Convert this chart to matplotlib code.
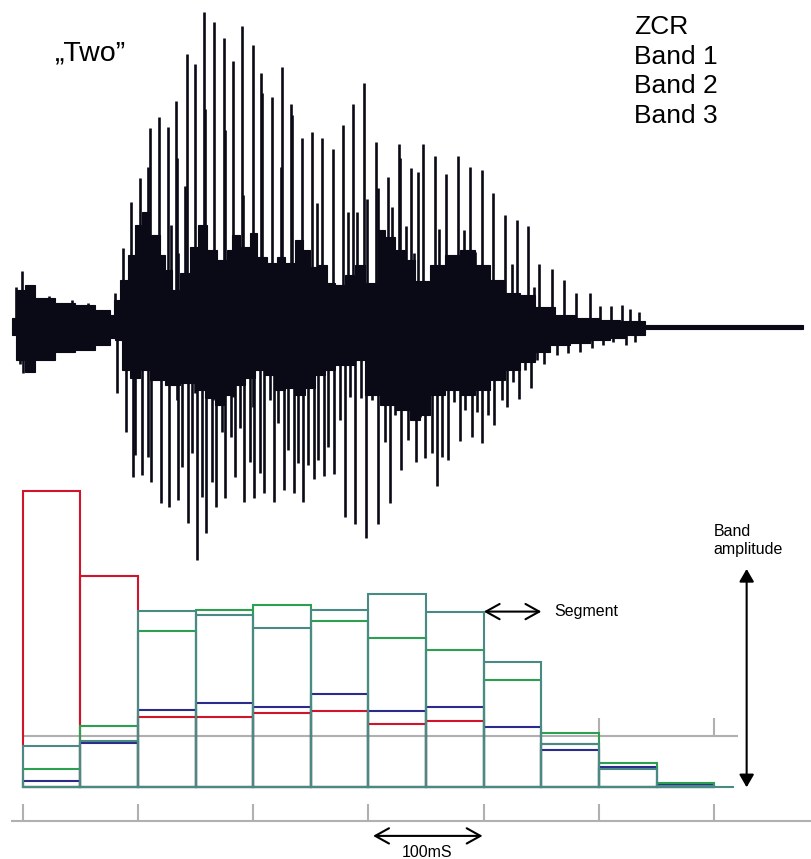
import numpy as np
import matplotlib
matplotlib.use('Agg')
import matplotlib.pyplot as plt
from matplotlib.patches import ArrowStyle

plt.rcParams['font.family'] = ['Liberation Sans', 'DejaVu Sans']

# ---------------- data ----------------
# segment values (relative band amplitude, ZCR peak = 100), 12 segments of 50 ms
zcr   = [100, 71.3, 23.8, 23.8, 25.1, 25.9, 21.5, 22.4, 0, 14.7, 0, 0]
band1 = [14.0, 15.7, 59.4, 58.0, 53.9, 59.8, 65.1, 59.3, 42.3, 14.7, 6.2, 0.4]
band2 = [6.2, 20.7, 52.6, 59.8, 61.5, 56.0, 50.5, 46.2, 36.3, 18.4, 8.3, 1.6]
band3 = [2.2, 14.8, 26.1, 28.6, 27.0, 31.4, 25.9, 27.2, 20.2, 12.6, 7.0, 0.9]
threshold = 17.2
time_ticks = [0, 100, 200, 300, 400, 500, 600]

# waveform of "Two": time in ms, amplitude in % of full scale
core_hi_t = [-9.3, -5.8, 2.0, 10.7, 28.0, 45.4, 62.7, 75.7, 79.2, 84.4, 91.3, 97.4, 103.5, 110.4,
             119.1, 123.5, 129.5, 136.5, 145.1, 152.1, 159.9, 168.6, 177.3, 181.6, 188.5, 197.2,
             203.3, 212.0, 220.6, 227.6, 236.2, 243.2, 249.3, 255.3, 264.0, 271.0, 279.6, 288.3,
             296.9, 308.2, 314.3, 323.0, 331.7, 340.4, 353.4, 366.4, 379.4, 392.4, 405.4, 418.4,
             431.4, 444.4, 461.7, 479.1, 500.9, 518.2, 539.9, 587.6, 677.0]
core_hi = [2.8, 11.3, 12.8, 8.9, 7.3, 6.7, 5.2, 3.7, 8.3, 14.4, 22.0, 31.2, 35.2, 28.1, 22.0, 17.4,
           11.3, 16.5, 24.5, 31.2, 23.5, 20.5, 23.5, 28.1, 24.5, 28.7, 21.4, 19.6, 21.4, 19.6, 26.6,
           23.5, 18.3, 18.9, 13.5, 12.8, 15.9, 19.0, 13.5, 29.7, 27.5, 23.5, 20.5, 14.1, 19.0, 22.0,
           23.5, 19.0, 14.4, 10.4, 9.8, 6.1, 3.7, 2.8, 2.1, 1.8, 0.5, 0.5, 0.5]
core_lo_t = [-9.3, -5.8, 2.0, 10.7, 28.0, 45.4, 62.7, 75.7, 80.1, 86.1, 93.1, 101.8, 110.4, 123.5,
             136.5, 149.5, 158.2, 166.8, 175.5, 184.2, 192.9, 201.5, 210.2, 218.9, 227.6, 236.2,
             244.9, 253.6, 262.3, 271.0, 279.6, 288.3, 296.9, 310.0, 323.0, 336.0, 344.7, 353.4,
             366.4, 379.4, 392.4, 405.4, 418.4, 431.4, 444.4, 457.5, 474.8, 492.2, 509.5, 522.5,
             539.9, 587.6, 677.0]
core_lo = [-2.4, -10.1, -13.8, -10.1, -7.6, -7.0, -5.5, -3.4, -4.0, -13.1, -15.6, -13.1, -16.2,
           -17.7, -17.1, -19.3, -21.7, -23.9, -20.8, -17.7, -15.6, -13.1, -14.7, -19.3, -18.7,
           -20.8, -18.7, -14.7, -13.1, -11.6, -11.6, -10.1, -20.8, -23.9, -25.4, -28.4, -26.9,
           -20.8, -19.3, -20.8, -19.3, -16.2, -13.1, -10.7, -7.6, -5.5, -4.9, -4.0, -3.4, -2.4,
           -0.5, -0.5, -0.5]

peak_up_t = [80.1, 87.0, 94.0, 101.8, 110.4, 118.2, 126.1, 133.0, 142.5, 149.5, 157.3, 166.0, 174.6,
             182.5, 190.3, 199.8, 206.7, 216.3, 224.9, 232.8, 242.3, 251.0, 259.7, 269.2, 277.9,
             286.5, 296.1, 306.5, 316.9, 326.5, 336.9, 343.0, 347.3, 357.7, 367.3, 377.7, 388.1,
             398.5, 408.0, 418.4, 428.8, 438.4, 447.9, 459.2, 469.6, 480.0, 492.2, 500.9, 510.4]
peak_up = [10.4, 24.2, 38.2, 45.6, 60.9, 64.2, 61.2, 69.1, 83.5, 80.4, 96.3, 93.3, 88.4, 81.3, 92.0,
           86.2, 77.7, 70.3, 79.5, 68.2, 57.8, 59.6, 57.8, 54.4, 61.8, 68.2, 74.6, 56.6, 45.9, 56.0,
           48.6, 47.4, 56.0, 52.3, 46.8, 52.3, 48.9, 48.0, 41.0, 34.3, 32.7, 30.9, 19.3, 17.7, 14.4,
           10.4, 10.4, 6.4, 6.4]
minor_up_t = [109.0, 134.2, 140.8, 158.5, 175.1, 191.4, 207.9, 223.8, 233.9, 255.3, 282.0, 290.0,
              298.7, 308.4, 320.4, 327.7, 332.5, 339.5, 360.9, 382.9, 392.2, 424.3, 443.6,
              129.0, 135.0, 146.6, 155.3, 164.0, 171.2,
              -5.8, -0.6, 8.9, 22.8, 35.0, 42.8, 56.6, 67.1, 520.0, 527.0, 535.0]
minor_up = [49.0, 51.6, 43.2, 66.6, 60.2, 40.4, 71.5, 49.0, 64.8, 37.8, 35.3, 35.2, 39.1, 42.4, 36.7,
            51.6, 30.9, 22.6, 29.9, 29.7, 23.0, 19.3, 12.3,
            31.2, 22.6, 24.6, 15.0, 11.3, 8.3,
            12.2, 17.1, 11.0, 9.5, 6.7, 8.3, 7.2, 3.3, 6.7, 5.5, 4.5]

peak_dn_t = [81.9, 89.6, 95.7, 103.5, 111.3, 120.0, 126.9, 134.7, 143.4, 151.2, 159.0, 167.7, 175.5,
             184.2, 192.0, 200.7, 209.4, 218.0, 226.7, 235.4, 243.2, 252.7, 261.4, 270.1, 279.6,
             288.3, 297.9, 308.3, 318.7, 328.2, 341.2, 349.0, 359.4, 368.9, 379.4, 389.8, 398.5,
             408.9, 420.2, 430.6, 441.0, 452.3, 463.5, 473.1, 483.5, 493.9, 503.5, 512.2]
peak_dn = [-20.2, -32.1, -45.9, -45.3, -47.4, -53.8, -55.0, -52.9, -59.9, -71.3, -63.0, -55.0, -52.3,
           -45.9, -53.5, -52.3, -50.8, -53.5, -49.8, -50.8, -53.5, -46.5, -45.6, -45.0, -58.1, -60.2,
           -64.5, -60.2, -53.8, -43.7, -41.3, -40.1, -48.6, -40.7, -34.9, -33.6, -35.5, -30.0, -24.5,
           -22.0, -18.7, -11.3, -8.6, -8.0, -7.6, -6.4, -5.5, -4.6]
minor_dn_t = [97.4, 108.8, 138.5, 147.2, 155.3, 164.5, 172.7, 180.7, 188.5, 197.2, 205.9, 221.8,
              230.4, 239.1, 247.8, 256.5, 265.1, 275.3, 284.0, 293.5, 302.8, 314.3, 323.0, 334.5,
              344.7, 354.9, 364.1, 374.5, 383.7, 393.9, 403.9, 415.6, 425.6, 435.7, 445.9,
              133.6, 149.5, 165.4, 182.7, 200.1, 214.6, 249.3,
              -2.3, 0.3, 8.9, 21.1, 38.4, 56.6, 523.0, 531.0]
minor_dn = [-39.1, -39.7, -42.7, -38.5, -51.9, -47.3, -32.0, -33.5, -31.0, -41.2, -44.7, -29.5,
            -37.6, -41.7, -42.2, -40.7, -36.6, -28.4, -21.3, -21.7, -22.3, -35.1, -26.9, -34.6,
            -27.4, -38.6, -39.7, -22.8, -25.4, -25.9, -26.9, -22.3, -16.7, -13.1, -10.1,
            -22.3, -20.2, -22.3, -21.3, -24.4, -22.3, -18.3,
            -11.3, -14.1, -8.4, -6.7, -5.7, -5.1, -5.5, -4.5]

legend_lines = ['ZCR', 'Band 1', 'Band 2', 'Band 3']

# ---------------- layout ----------------
W, H = 812, 859
fig = plt.figure(figsize=(W / 100, H / 100), dpi=100)
X0_PX, PX_PER_MS = 22.7, 1.1526
BASE_PX, PX_PER_UNIT = 787.3, 2.963
WAVE_C_PX, PX_PER_PCT = 327.0, 3.27
xlim = (-X0_PX / PX_PER_MS, (W - X0_PX) / PX_PER_MS)

ax_b = fig.add_axes([0, 0, 1, 1])
ax_b.set_xlim(*xlim)
ax_b.set_ylim((BASE_PX - H) / PX_PER_UNIT, BASE_PX / PX_PER_UNIT)
ax_b.axis('off')

ax_w = fig.add_axes([0, 0, 1, 1])
ax_w.set_xlim(*xlim)
ax_w.set_ylim((WAVE_C_PX - H) / PX_PER_PCT, WAVE_C_PX / PX_PER_PCT)
ax_w.axis('off')

RED, TEAL, GREEN, NAVY, GRAY = '#d0142c', '#4a8a84', '#2ca050', '#2b2b8c', '#b0b0b0'
WAVE = '#0a0a16'


# ---------------- waveform ----------------
def stepped(t, a):
    t = np.asarray(t, float)
    a = np.asarray(a, float)
    ts = np.repeat(t, 2)[1:]
    as_ = np.repeat(a, 2)[:-1]
    return ts, as_


hi_t, hi_a = stepped(core_hi_t, core_hi)
lo_t, lo_a = stepped(core_lo_t, core_lo)
poly_t = np.concatenate([hi_t, lo_t[::-1]])
poly_a = np.concatenate([hi_a, lo_a[::-1]])
ax_w.fill(poly_t, poly_a, color=WAVE, lw=0.8, zorder=2)
for tt, aa in [(peak_up_t, peak_up), (minor_up_t, minor_up),
               (peak_dn_t, peak_dn), (minor_dn_t, minor_dn)]:
    ax_w.vlines(tt, 0, aa, color=WAVE, lw=1.9, zorder=3)

# ---------------- segment bars ----------------
seg_ms = 50
centers = [seg_ms * (i + 0.5) for i in range(len(zcr))]
end_ms = seg_ms * len(zcr)

ax_b.hlines(threshold, 0, end_ms + 20.6, color=GRAY, lw=1.5, zorder=1.5)
ax_b.vlines(time_ticks, threshold, threshold + 6.3, color=GRAY, lw=1.5, zorder=1.5)

for vals, col, z in [(zcr, RED, 2), (band3, NAVY, 3), (band2, GREEN, 4), (band1, TEAL, 5)]:
    ax_b.bar(centers, vals, width=seg_ms, fill=False, edgecolor=col, linewidth=1.5, zorder=z)
ax_b.hlines(0, 0, end_ms + 17, color=TEAL, lw=1.5, zorder=5)

# bottom time axis
ax_b.hlines(-11.27, -10, xlim[1], color=GRAY, lw=1.5)
ax_b.vlines(time_ticks, -11.27, -5.64, color=GRAY, lw=1.5)

open_arrow = ArrowStyle('<->', head_length=0.45, head_width=0.25)
solid_arrow = ArrowStyle('<|-|>', head_length=0.45, head_width=0.26)

ax_b.annotate('', xy=(450, band1[7]), xytext=(400, band1[7]),
              arrowprops=dict(arrowstyle=open_arrow, mutation_scale=22, color='black',
                              lw=1.5, shrinkA=0, shrinkB=0))
ax_b.text(461, band1[7], 'Segment', fontsize=11.5, va='center', ha='left')

ax_b.annotate('', xy=(399, -16.4), xytext=(304, -16.4),
              arrowprops=dict(arrowstyle=open_arrow, mutation_scale=22, color='black',
                              lw=1.5, shrinkA=0, shrinkB=0))
ax_b.text(351, -21.9, '100mS', fontsize=11.5, va='center', ha='center')

ax_b.annotate('', xy=(628.1, 73.7), xytext=(628.1, 0),
              arrowprops=dict(arrowstyle=solid_arrow, mutation_scale=17, color='black',
                              lw=1.5, shrinkA=0, shrinkB=0))
ax_b.text(599.5, 86.3, 'Band', fontsize=11.5, va='center', ha='left')
ax_b.text(599.5, 80.1, 'amplitude', fontsize=11.5, va='center', ha='left')

# ---------------- titles ----------------
fig.text(55 / W, 1 - 53 / H, '\u201eTwo\u201d', fontsize=20.5, va='center', ha='left')
for i, s in enumerate(legend_lines):
    fig.text(634 / W, 1 - (27 + 29.7 * i) / H, s, fontsize=19, va='center', ha='left')

fig.savefig('out.png', dpi=100)
